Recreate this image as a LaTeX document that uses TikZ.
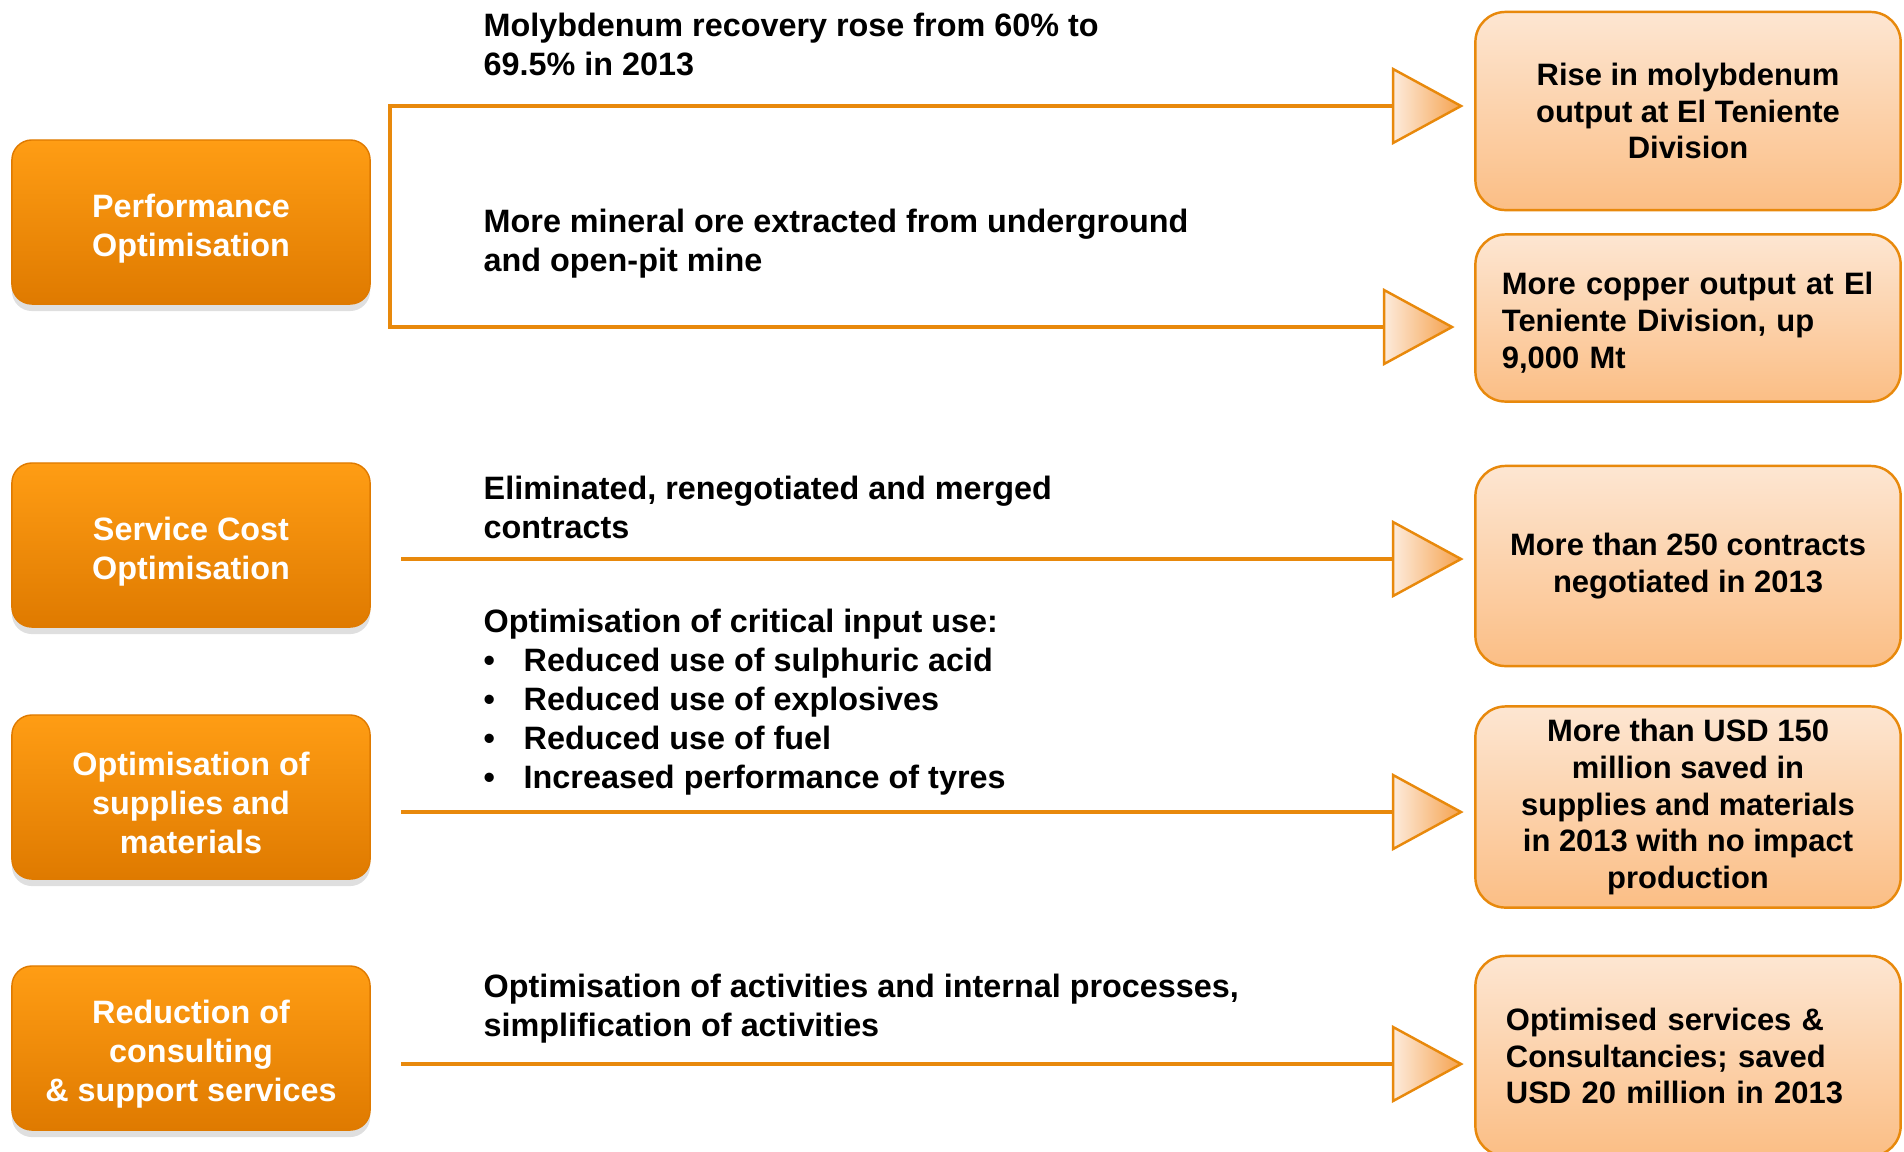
\documentclass[tikz,border=0pt]{standalone}
\usepackage{fontspec}
\setmainfont{Liberation Sans}
\usepackage{tikz}
\usetikzlibrary{shapes.geometric, shadows}
\definecolor{lineorange}{HTML}{E8890C}
\definecolor{levertop}{HTML}{FF9D14}
\definecolor{leverbot}{HTML}{DF7A00}
\definecolor{resulttop}{HTML}{FDE6D2}
\definecolor{resultbot}{HTML}{FBBE85}
\definecolor{headleft}{HTML}{FDEBDC}
\definecolor{headright}{HTML}{F5A24E}
\tikzstyle{lever} = [rectangle, rounded corners=0.2cm, minimum width=3.58cm, minimum height=1.64cm, align=center, top color=levertop, bottom color=leverbot, draw=leverbot, text=white, font=\bfseries\fontsize{9.2}{11.1}\selectfont, drop shadow={shadow xshift=0cm, shadow yshift=-0.07cm, opacity=0.25}]
\tikzstyle{result} = [rectangle, rounded corners=0.3cm, minimum width=4.25cm, align=center, top color=resulttop, bottom color=resultbot, draw=lineorange, line width=0.7pt, font=\bfseries\fontsize{8.8}{10.5}\selectfont]
\tikzstyle{note} = [anchor=west, align=left, inner sep=0pt, font=\bfseries\fontsize{9.2}{11.1}\selectfont]
\tikzstyle{head} = [isosceles triangle, isosceles triangle stretches, minimum width=0.74cm, minimum height=0.68cm, inner sep=0pt, outer sep=0pt, left color=headleft, right color=headright, draw=lineorange, line width=0.7pt, anchor=lower side]
\tikzstyle{link} = [draw=lineorange, line width=1.4pt]
\newcommand{\bul}{\makebox[0.4cm][l]{\textbullet}}
\newcommand{\lift}{\rule{0pt}{0.36cm}}

\begin{document}
\begin{tikzpicture}[x=0.01cm, y=-0.01cm]
	\useasboundingbox (0,0) rectangle (1904,1151);
	\node (perf) [lever] at (191,222) {\lift Performance\\Optimisation};
	\node (serv) [lever] at (191,545) {\lift Service Cost\\Optimisation};
	\node (supp) [lever] at (191,797) {\lift Optimisation of\\supplies and\\materials};
	\node (cons) [lever] at (191,1048) {\lift Reduction of\\consulting\\\& support services};

	\node (moly) [result, minimum height=1.98cm] at (1688,111) {Rise in molybdenum\\output at El Teniente\\Division};
	\node (copper) [result, minimum height=1.67cm, text width=3.72cm, align=left] at (1688,318) {\rule{0pt}{0.31cm}More copper output at El\\Teniente Division, up\\9,000 Mt};
	\node (contracts) [result, minimum height=2cm] at (1688,566) {More than 250 contracts\\negotiated in 2013};
	\node (saved) [result, minimum height=2.01cm] at (1688,807) {More than USD 150\\million saved in\\supplies and materials\\in 2013 with no impact\\production};
	\node (services) [result, minimum height=2cm, text width=3.64cm, align=left] at (1688,1056) {Optimised services \&\\Consultancies; saved\\USD 20 million in 2013};

	\node (molynote) [note] at (483,44) {Molybdenum recovery rose from 60\% to\\69.5\% in 2013};
	\node (orenote) [note] at (483,244) {More mineral ore extracted from underground\\and open-pit mine};
	\node (connote) [note] at (483,507) {Eliminated, renegotiated and merged\\contracts};
	\node (critnote) [note] at (483,702) {Optimisation of critical input use:\\\bul Reduced use of sulphuric acid\\\bul Reduced use of explosives\\\bul Reduced use of fuel\\\bul Increased performance of tyres};
	\node (actnote) [note] at (483,1009) {Optimisation of activities and internal processes,\\simplification of activities};

	\node (h1) [head] at (1393,106) {};
	\node (h2) [head] at (1384,327) {};
	\node (h3) [head] at (1393,559) {};
	\node (h4) [head] at (1393,812) {};
	\node (h5) [head] at (1393,1064) {};

	\coordinate (b1) at (390,106);
	\coordinate (b2) at (390,327);
	\coordinate (s3) at (401,559);
	\coordinate (s4) at (401,812);
	\coordinate (s5) at (401,1064);
	\draw [link] (h1.lower side) -- (b1) -- (b2) -- (h2.lower side);
	\draw [link] (s3) -- (h3.lower side);
	\draw [link] (s4) -- (h4.lower side);
	\draw [link] (s5) -- (h5.lower side);
\end{tikzpicture}
\end{document}
